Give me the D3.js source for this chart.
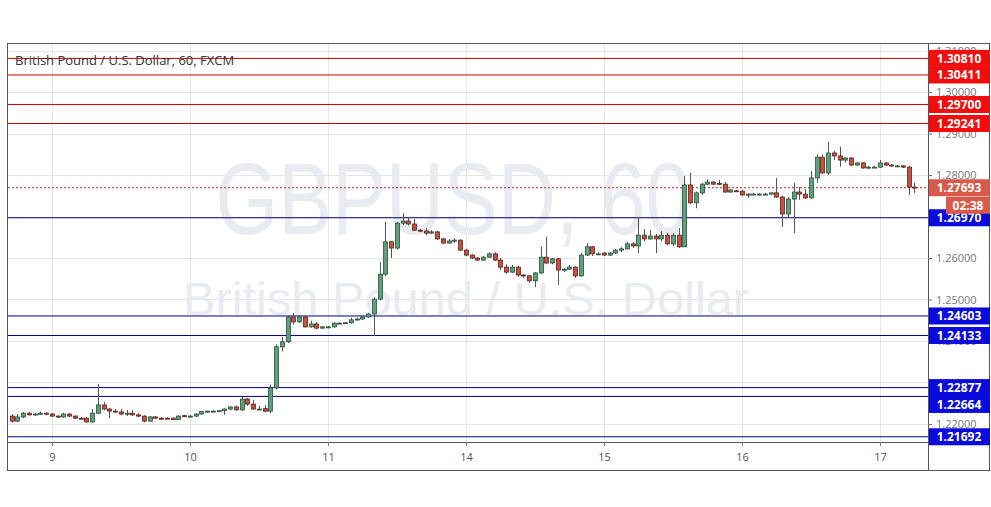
<!DOCTYPE html>
<html><head><meta charset="utf-8">
<script src="https://cdn.jsdelivr.net/npm/d3@7"></script>
<style>body{margin:0;background:#fff;font-family:"Open Sans",Roboto,sans-serif}</style>
</head><body><svg id="c" width="991" height="507"></svg>
<script>
const opens=[1.2219,1.2207,1.2217,1.2226,1.2222,1.2224,1.2226,1.2224,1.2219,1.2217,1.2224,1.2219,1.2214,1.2214,1.2205,1.2226,1.2246,1.2236,1.2231,1.2229,1.2224,1.2226,1.2222,1.2219,1.2207,1.2217,1.2214,1.2214,1.2214,1.2211,1.2220,1.2219,1.2219,1.2224,1.2230,1.2231,1.2231,1.2232,1.2236,1.2241,1.2234,1.2260,1.2248,1.2236,1.2237,1.2231,1.2287,1.2386,1.2398,1.2458,1.2446,1.2458,1.2434,1.2441,1.2431,1.2434,1.2434,1.2443,1.2443,1.2444,1.2451,1.2453,1.2458,1.2465,1.2501,1.2561,1.2639,1.2624,1.2684,1.2689,1.2682,1.2667,1.2665,1.2660,1.2663,1.2646,1.2636,1.2641,1.2643,1.2619,1.2607,1.2600,1.2595,1.2602,1.2610,1.2595,1.2578,1.2566,1.2578,1.2559,1.2557,1.2545,1.2564,1.2602,1.2588,1.2598,1.2571,1.2573,1.2578,1.2557,1.2607,1.2627,1.2610,1.2612,1.2607,1.2612,1.2619,1.2622,1.2634,1.2629,1.2655,1.2646,1.2653,1.2646,1.2655,1.2634,1.2655,1.2627,1.2776,1.2733,1.2757,1.2778,1.2783,1.2780,1.2778,1.2759,1.2762,1.2761,1.2752,1.2754,1.2754,1.2754,1.2754,1.2757,1.2747,1.2706,1.2742,1.2759,1.2754,1.2745,1.2793,1.2843,1.2805,1.2853,1.2846,1.2836,1.2841,1.2824,1.2829,1.2817,1.2819,1.2819,1.2829,1.2824,1.2822,1.2822,1.2819,1.2771];
const highs=[1.2224,1.2224,1.2229,1.2229,1.2226,1.2230,1.2229,1.2226,1.2221,1.2227,1.2226,1.2221,1.2217,1.2217,1.2236,1.2296,1.2253,1.2239,1.2236,1.2236,1.2234,1.2234,1.2226,1.2221,1.2219,1.2219,1.2217,1.2216,1.2216,1.2221,1.2222,1.2221,1.2226,1.2231,1.2232,1.2233,1.2233,1.2238,1.2243,1.2244,1.2265,1.2263,1.2258,1.2244,1.2246,1.2295,1.2392,1.2410,1.2462,1.2468,1.2462,1.2460,1.2449,1.2446,1.2436,1.2436,1.2445,1.2445,1.2446,1.2456,1.2456,1.2459,1.2468,1.2505,1.2590,1.2687,1.2641,1.2687,1.2708,1.2699,1.2694,1.2670,1.2672,1.2667,1.2665,1.2648,1.2646,1.2648,1.2645,1.2622,1.2609,1.2602,1.2605,1.2614,1.2614,1.2600,1.2585,1.2583,1.2581,1.2561,1.2559,1.2566,1.2627,1.2651,1.2600,1.2600,1.2576,1.2583,1.2580,1.2612,1.2636,1.2629,1.2614,1.2614,1.2614,1.2622,1.2626,1.2639,1.2639,1.2699,1.2670,1.2667,1.2658,1.2665,1.2660,1.2660,1.2672,1.2798,1.2805,1.2760,1.2781,1.2790,1.2786,1.2788,1.2783,1.2766,1.2764,1.2764,1.2756,1.2757,1.2756,1.2757,1.2757,1.2793,1.2750,1.2747,1.2781,1.2771,1.2766,1.2810,1.2850,1.2850,1.2880,1.2858,1.2868,1.2843,1.2843,1.2831,1.2831,1.2822,1.2822,1.2836,1.2831,1.2826,1.2824,1.2824,1.2822,1.2781];
const lows=[1.2203,1.2204,1.2214,1.2220,1.2220,1.2222,1.2221,1.2217,1.2214,1.2215,1.2217,1.2212,1.2211,1.2203,1.2203,1.2224,1.2233,1.2214,1.2227,1.2221,1.2219,1.2219,1.2216,1.2204,1.2205,1.2212,1.2210,1.2212,1.2209,1.2210,1.2217,1.2216,1.2217,1.2222,1.2228,1.2229,1.2229,1.2222,1.2233,1.2232,1.2231,1.2244,1.2234,1.2234,1.2228,1.2226,1.2283,1.2375,1.2395,1.2440,1.2444,1.2432,1.2432,1.2428,1.2430,1.2431,1.2432,1.2441,1.2441,1.2442,1.2449,1.2451,1.2456,1.2412,1.2498,1.2556,1.2600,1.2620,1.2680,1.2678,1.2665,1.2662,1.2655,1.2658,1.2643,1.2634,1.2634,1.2636,1.2617,1.2605,1.2597,1.2593,1.2593,1.2600,1.2593,1.2571,1.2562,1.2564,1.2554,1.2552,1.2540,1.2530,1.2562,1.2585,1.2585,1.2535,1.2566,1.2571,1.2552,1.2555,1.2605,1.2605,1.2607,1.2605,1.2605,1.2610,1.2614,1.2620,1.2624,1.2612,1.2640,1.2644,1.2612,1.2641,1.2631,1.2629,1.2624,1.2627,1.2730,1.2720,1.2752,1.2776,1.2776,1.2776,1.2757,1.2757,1.2759,1.2750,1.2745,1.2752,1.2751,1.2752,1.2752,1.2745,1.2675,1.2699,1.2660,1.2740,1.2742,1.2742,1.2781,1.2803,1.2800,1.2836,1.2820,1.2830,1.2822,1.2822,1.2815,1.2815,1.2817,1.2817,1.2822,1.2820,1.2819,1.2817,1.2752,1.2757];
const closes=[1.2207,1.2217,1.2226,1.2222,1.2224,1.2226,1.2224,1.2219,1.2217,1.2224,1.2219,1.2214,1.2213,1.2205,1.2226,1.2246,1.2236,1.2231,1.2229,1.2224,1.2226,1.2222,1.2219,1.2207,1.2217,1.2214,1.2212,1.2213,1.2211,1.2219,1.2218,1.2219,1.2224,1.2230,1.2231,1.2231,1.2232,1.2236,1.2241,1.2234,1.2260,1.2248,1.2236,1.2236,1.2231,1.2287,1.2386,1.2398,1.2458,1.2446,1.2458,1.2434,1.2441,1.2431,1.2434,1.2434,1.2443,1.2443,1.2444,1.2451,1.2453,1.2458,1.2465,1.2501,1.2561,1.2639,1.2624,1.2684,1.2689,1.2682,1.2667,1.2665,1.2660,1.2663,1.2646,1.2636,1.2641,1.2643,1.2619,1.2607,1.2600,1.2595,1.2602,1.2610,1.2595,1.2578,1.2566,1.2578,1.2559,1.2557,1.2545,1.2564,1.2602,1.2588,1.2598,1.2571,1.2573,1.2578,1.2557,1.2607,1.2627,1.2610,1.2610,1.2607,1.2612,1.2619,1.2622,1.2634,1.2629,1.2655,1.2646,1.2653,1.2646,1.2655,1.2634,1.2655,1.2627,1.2776,1.2733,1.2757,1.2778,1.2783,1.2778,1.2778,1.2759,1.2764,1.2761,1.2752,1.2754,1.2754,1.2754,1.2754,1.2757,1.2747,1.2706,1.2742,1.2759,1.2754,1.2745,1.2793,1.2843,1.2805,1.2853,1.2846,1.2836,1.2841,1.2824,1.2829,1.2817,1.2819,1.2819,1.2829,1.2824,1.2822,1.2822,1.2819,1.2771,1.2769];
const dayLabels=["9","10","11","14","15","16","17"];
const dayStartIndex=[7,31,55,79,103,127,151];
const priceTicks=[1.22,1.23,1.24,1.25,1.26,1.27,1.28,1.29,1.30,1.31];
const priceLabelTicks=[1.22,1.24,1.25,1.26,1.28,1.29,1.30,1.31];
const resistance=[1.30810,1.30411,1.29700,1.29241];
const support=[1.26970,1.24603,1.24133,1.22877,1.22664,1.21692];
const lastPrice=1.27693;

const svg=d3.select("#c");
const L=8,R=928,T=44,B=442;
const x=d3.scaleLinear().domain([-0.64,159.36]).range([L,R]);
const y=d3.scaleLinear().domain([1.21566,1.31157]).range([B,T]);
const F="'Open Sans',sans-serif";

svg.append("rect").attr("x",7.5).attr("y",43.5).attr("width",982).attr("height",427).attr("fill","none").attr("stroke","#555");
const g=svg.append("g");
priceTicks.forEach(p=>g.append("line").attr("x1",L).attr("x2",R).attr("y1",Math.round(y(p))+.5).attr("y2",Math.round(y(p))+.5).attr("stroke","#e6e6e6"));
dayStartIndex.forEach(i=>g.append("line").attr("x1",Math.round(x(i))+.5).attr("x2",Math.round(x(i))+.5).attr("y1",T).attr("y2",B).attr("stroke","#e6e6e6"));

svg.append("text").attr("x",453).attr("y",234).attr("text-anchor","middle").attr("font-size",102).attr("textLength",475).attr("lengthAdjust","spacingAndGlyphs").attr("fill","#e9ebf1").attr("font-family","'Liberation Sans',Arial,sans-serif").text("GBPUSD, 60");
svg.append("text").attr("x",466).attr("y",315).attr("text-anchor","middle").attr("font-size",47).attr("textLength",566).attr("lengthAdjust","spacingAndGlyphs").attr("fill","#e9ebf1").attr("font-family","'Liberation Sans',Arial,sans-serif").text("British Pound / U.S. Dollar");

resistance.forEach(p=>svg.append("line").attr("x1",L).attr("x2",R).attr("y1",y(p)).attr("y2",y(p)).attr("stroke","#cc0000"));
support.forEach(p=>svg.append("line").attr("x1",L).attr("x2",R).attr("y1",y(p)).attr("y2",y(p)).attr("stroke","#000080"));
svg.append("line").attr("x1",L).attr("x2",R).attr("y1",y(lastPrice)).attr("y2",y(lastPrice)).attr("stroke","#b03030").attr("stroke-dasharray","2,2");

const data=opens.map((o,i)=>({i,o,h:highs[i],l:lows[i],c:closes[i]}));
const cg=svg.append("g");
const bw=4;
data.forEach(d=>{
  const up=d.c>=d.o;
  const cx=Math.round(x(d.i))+.5;
  cg.append("line").attr("x1",cx).attr("x2",cx).attr("y1",y(d.h)).attr("y2",y(d.l)).attr("stroke","#555");
  const top=y(Math.max(d.o,d.c)),bot=y(Math.min(d.o,d.c));
  cg.append("rect").attr("x",cx-bw/2).attr("y",top).attr("width",bw).attr("height",Math.max(1,bot-top))
    .attr("fill",up?"#5fa07c":"#c94f3f").attr("stroke",up?"#2e4f3c":"#5a2620").attr("stroke-width",0.8);
});

svg.append("line").attr("x1",R+.5).attr("x2",R+.5).attr("y1",T).attr("y2",470).attr("stroke","#555");
svg.append("line").attr("x1",L).attr("x2",990).attr("y1",B+.5).attr("y2",B+.5).attr("stroke","#555");
const ya=svg.append("g").attr("transform",`translate(${R},0)`).call(d3.axisRight(y).tickValues(priceTicks).tickFormat(d=>priceLabelTicks.some(v=>Math.abs(v-d)<1e-9)?d3.format(".5f")(d):"").tickSize(4));
ya.select(".domain").remove();
ya.selectAll("text").attr("font-size",11).attr("fill","#777").attr("font-family",F).attr("x",8);
ya.selectAll("line").attr("stroke","#777");
const xa=svg.append("g").attr("transform",`translate(0,${B})`).call(d3.axisBottom(x).tickValues(dayStartIndex).tickFormat((d,k)=>dayLabels[k]).tickSize(4));
xa.select(".domain").remove();
xa.selectAll("text").attr("font-size",11).attr("fill","#555").attr("font-family",F).attr("dy","1.1em");
xa.selectAll("line").attr("stroke","#777");

function tag(p,fill,dy){
  const yc=y(p)+(dy||0);
  svg.append("rect").attr("x",929).attr("y",yc-8.5).attr("width",61).attr("height",17).attr("fill",fill);
  svg.append("text").attr("x",959).attr("y",yc+4.5).attr("text-anchor","middle").attr("font-size",12).attr("font-weight","bold").attr("fill","#fff").attr("font-family",F).text(p.toFixed(5));
}
resistance.forEach(p=>tag(p,"#f20c0c"));
support.forEach(p=>tag(p,"#0a0adc",p===1.22664?8:0));
tag(lastPrice,"#d9594a");
svg.append("rect").attr("x",946).attr("y",y(lastPrice)+9).attr("width",44).attr("height",17).attr("fill","#d9594a");
svg.append("text").attr("x",968).attr("y",y(lastPrice)+22).attr("text-anchor","middle").attr("font-size",12).attr("font-weight","bold").attr("fill","#fff").attr("font-family",F).text("02:38");

svg.append("text").attr("x",15).attr("y",65).attr("font-size",13).attr("fill","#333").attr("font-family",F).text("British Pound / U.S. Dollar, 60, FXCM");
</script></body></html>
